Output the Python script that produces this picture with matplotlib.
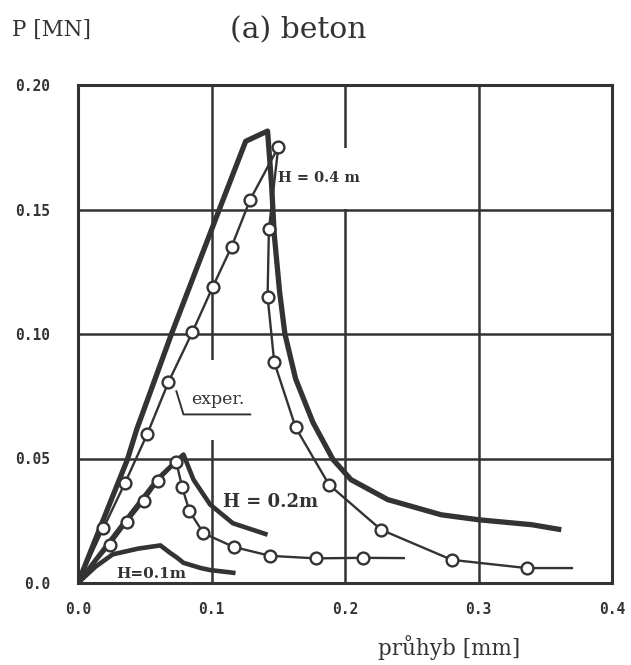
import matplotlib
matplotlib.use('Agg')
import matplotlib.pyplot as plt

# thick curve, H = 0.4 m (exper.)
exp04_x = [0, 0.037, 0.044, 0.070, 0.108, 0.1256, 0.142, 0.145, 0.147, 0.151, 0.155,
           0.163, 0.176, 0.191, 0.2045, 0.232, 0.272, 0.300, 0.340, 0.362]
exp04_y = [0, 0.0496, 0.0617, 0.100, 0.153, 0.1774, 0.1815, 0.160, 0.140, 0.117, 0.100,
           0.082, 0.0645, 0.0496, 0.0415, 0.0335, 0.0274, 0.0254, 0.0234, 0.0214]

# circles, H = 0.4 m
calc04_x = [0, 0.019, 0.0353, 0.052, 0.0677, 0.0857, 0.101, 0.115, 0.129, 0.150,
            0.143, 0.142, 0.147, 0.163, 0.188, 0.227, 0.280, 0.336, 0.370]
calc04_y = [0, 0.022, 0.0403, 0.060, 0.0806, 0.1008, 0.119, 0.135, 0.154, 0.175,
            0.142, 0.115, 0.0887, 0.0625, 0.0395, 0.0214, 0.0093, 0.006, 0.006]

# thick curve, H = 0.2 m
exp02_x = [0, 0.037, 0.060, 0.0737, 0.079, 0.0865, 0.099, 0.116, 0.142]
exp02_y = [0, 0.026, 0.042, 0.049, 0.0516, 0.0415, 0.0315, 0.024, 0.0194]

# circles, H = 0.2 m
calc02_x = [0, 0.024, 0.037, 0.0496, 0.060, 0.0737, 0.078, 0.0835, 0.094, 0.1165,
            0.144, 0.178, 0.2135, 0.244]
calc02_y = [0, 0.0153, 0.0246, 0.033, 0.041, 0.0484, 0.0385, 0.0288, 0.020, 0.0145,
            0.0109, 0.0099, 0.0101, 0.010]

# thick curve, H = 0.1 m
exp01_x = [0, 0.013, 0.026, 0.045, 0.0617, 0.069, 0.0744, 0.079, 0.092, 0.099, 0.118]
exp01_y = [0, 0.0065, 0.0115, 0.0138, 0.0151, 0.0121, 0.0101, 0.0081, 0.006, 0.0052, 0.004]

xticks = [0.0, 0.1, 0.2, 0.3, 0.4]
xticklabels = ['0.0', '0.1', '0.2', '0.3', '0.4']
yticks = [0.0, 0.05, 0.10, 0.15, 0.20]
yticklabels = ['0.0', '0.05', '0.10', '0.15', '0.20']

ink = '#333333'
serif = 'DejaVu Serif'
mono = 'DejaVu Sans Mono'

fig = plt.figure(figsize=(6.31, 6.65), dpi=100)
ax = fig.add_axes([78 / 631, 1 - 583 / 665, 534 / 631, 498 / 665])
ax.set_xlim(0, 0.4)
ax.set_ylim(0, 0.2)

ax.set_xticks(xticks)
ax.set_xticklabels(xticklabels)
ax.set_yticks(yticks)
ax.set_yticklabels(yticklabels)
ax.tick_params(length=0, labelsize=10.5, colors=ink)
ax.tick_params(axis='y', pad=20)
ax.tick_params(axis='x', pad=14)
for lab in ax.get_xticklabels() + ax.get_yticklabels():
    lab.set_family(mono)
    lab.set_fontweight('bold')

ax.grid(True, color=ink, linewidth=1.8)
ax.set_axisbelow(True)
for sp in ax.spines.values():
    sp.set_linewidth(2.2)
    sp.set_color(ink)

# curves
ax.plot(exp04_x, exp04_y, color=ink, lw=3.8, solid_capstyle='butt', zorder=4)
ax.plot(exp02_x, exp02_y, color=ink, lw=3.3, solid_capstyle='butt', zorder=4)
ax.plot(exp01_x, exp01_y, color=ink, lw=3.3, solid_capstyle='butt', zorder=4)
ax.plot(calc04_x, calc04_y, color=ink, lw=1.7, marker='o', ms=8.5, mfc='white',
        mec=ink, mew=1.7, markevery=list(range(1, len(calc04_x) - 1)), zorder=5)
ax.plot(calc02_x, calc02_y, color=ink, lw=1.7, marker='o', ms=8.5, mfc='white',
        mec=ink, mew=1.7, markevery=list(range(1, len(calc02_x) - 1)), zorder=5)

# labels on the curves
ax.text(0.150, 0.1625, 'H = 0.4 m', family=serif, fontweight='bold', fontsize=10.5,
        color=ink, va='center', ha='left', zorder=3,
        bbox=dict(facecolor='white', edgecolor='none', boxstyle='square,pad=1.6'))
ax.text(0.1445, 0.0327, 'H = 0.2m', family=serif, fontweight='bold', fontsize=13,
        color=ink, va='center', ha='center', zorder=3)
ax.text(0.055, 0.0035, 'H=0.1m', family=serif, fontweight='bold', fontsize=11,
        color=ink, va='center', ha='center', zorder=3)
ax.text(0.1045, 0.0735, 'exper.', family=serif, fontsize=12.5, color=ink,
        va='center', ha='center', zorder=3,
        bbox=dict(facecolor='white', edgecolor='none', boxstyle='square,pad=1.8'))
# leader under "exper."
ax.plot([0.0737, 0.079, 0.129], [0.077, 0.0677, 0.0677], color=ink, lw=1.4, zorder=3.5)

fig.text(12 / 631, 1 - 30 / 665, 'P [MN]', family=serif, fontsize=15.5, color=ink,
         va='center', ha='left')
fig.text(298 / 631, 1 - 30 / 665, '(a) beton', family=serif, fontsize=21.5, color=ink,
         va='center', ha='center')
fig.text(449 / 631, 1 - 648 / 665, 'průhyb [mm]', family=serif, fontsize=15.5, color=ink,
         va='center', ha='center')

fig.savefig('out.png', dpi=100, facecolor='white')
